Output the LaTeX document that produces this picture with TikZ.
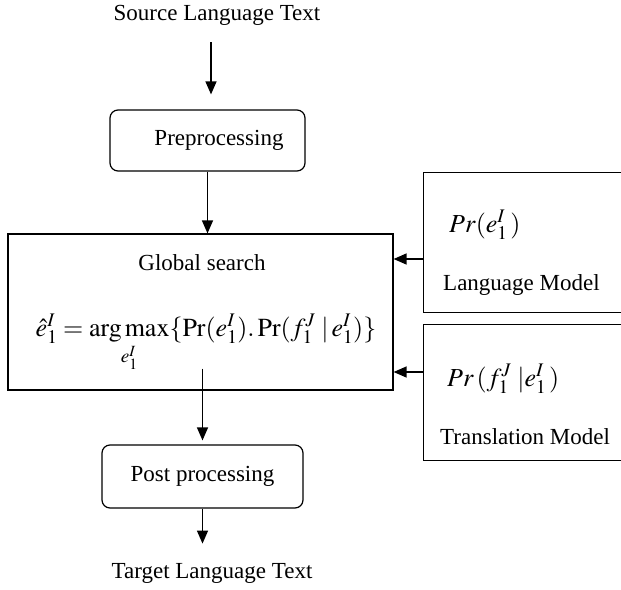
\documentclass[tikz,border=0pt]{standalone}
\usepackage{mathptmx}
\usepackage{fontspec}
\setmainfont{Liberation Serif}
\usetikzlibrary{arrows.meta}
\begin{document}
\begin{tikzpicture}[x=1pt,y=-1pt,
  lbl/.style={inner sep=0pt, font=\fontsize{23}{26}\selectfont},
  rbox/.style={draw, line width=1.2pt, rounded corners=8pt, inner sep=0pt, font=\fontsize{23}{26}\selectfont},
  sbox/.style={draw, line width=1.2pt, inner sep=0pt},
  mth/.style={inner sep=0pt, font=\fontsize{26}{30}\selectfont},
  arr/.style={line width=1.3pt, -{Triangle[length=13pt,width=11pt]}}]
\useasboundingbox (0,0) rectangle (621,589);
\clip (0,0) rectangle (621,589);

\node[lbl] (src) at (217,15) {Source Language Text};
\node[rbox, minimum width=195pt, minimum height=61pt] (pre) at (207.5,140.5) {\hspace*{23pt}Preprocessing};
\node[sbox, minimum width=385pt, minimum height=156pt] (glob) at (200.5,312) {};
\node[lbl] (gs) at (202,263) {Global search};
\node[mth, anchor=base] (eq) at (206,336)
  {$\hat{e}_1^{I} = \mathop{\mathrm{arg\,max}}\limits_{e_1^{I}}\{\mathrm{Pr}(e_1^{I}).\,\mathrm{Pr}(f_1^{J}\;|\,e_1^{I})\}$};
\node[rbox, minimum width=201pt, minimum height=63pt] (post) at (202.5,476.5) {Post processing};
\node[lbl] (tgt) at (212,573) {Target Language Text};

\node[sbox, anchor=north west, minimum width=215pt, minimum height=140pt] (lm) at (423,172) {};
\node[mth, anchor=west] (lmf) at (449,225) {$\mathit{Pr}(e_1^{I}\,)$};
\node[lbl, anchor=west] (lmt) at (443,285) {Language Model};

\node[sbox, anchor=north west, minimum width=215pt, minimum height=136pt] (tm) at (423,324) {};
\node[mth, anchor=west] (tmf) at (447,379) {$\mathit{Pr}\,(f_1^{J}\;|e_1^{I}\,)$};
\node[lbl, anchor=west] (tmt) at (440,437) {Translation Model};

\draw[arr] ([xshift=3.5pt,yshift=67pt]pre.north) -- ([xshift=3.5pt,yshift=15pt]pre.north);
\draw[arr] (pre.south) -- (pre.south |- glob.north);
\draw[arr] ([yshift=22pt]post.north |- glob.south) -- ([yshift=4pt]post.north);
\draw[arr] (post.south) -- ([yshift=-35pt]post.south);
\draw[arr] ([yshift=-87pt]lm.north west) coordinate (a1) -- (a1 -| glob.east);
\draw[arr] ([yshift=-48pt]tm.north west) coordinate (a2) -- (a2 -| glob.east);
\end{tikzpicture}
\end{document}
